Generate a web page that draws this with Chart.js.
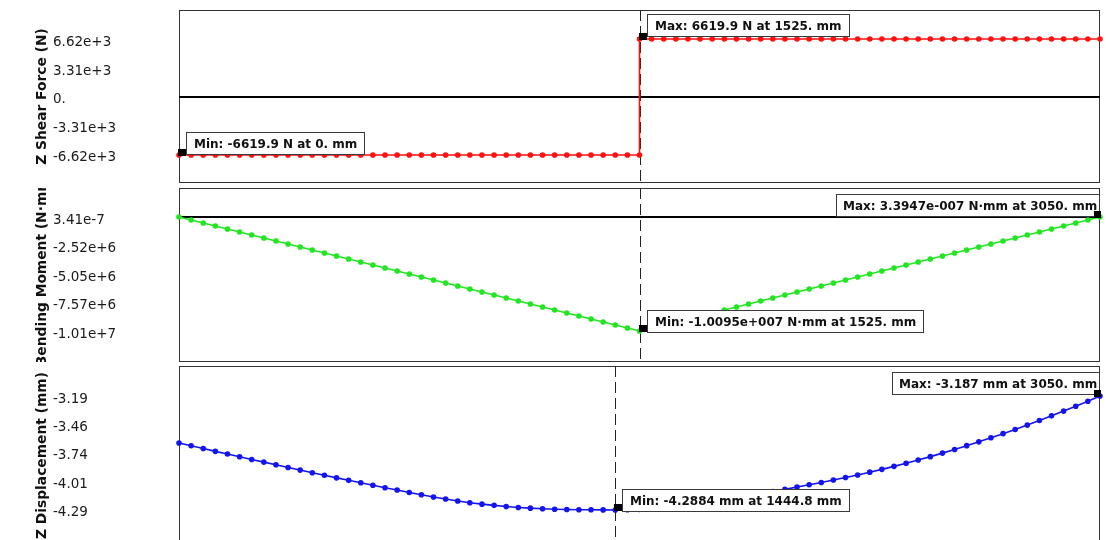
<!DOCTYPE html>
<html>
<head>
<meta charset="utf-8">
<script src="https://cdn.jsdelivr.net/npm/chart.js@4.4.1/dist/chart.umd.min.js"></script>
<style>
  html, body { margin: 0; padding: 0; background: #fff; width: 1106px; height: 540px; overflow: hidden; }
  canvas { position: absolute; left: 0; }
</style>
</head>
<body>
<canvas id="shear" width="1106" height="193" style="top:0px"></canvas>
<canvas id="moment" width="1106" height="194" style="top:178px"></canvas>
<canvas id="disp" width="1106" height="199" style="top:356px"></canvas>
<script>
// Node positions along the beam (mm), 76 elements over 3050 mm
const nodeX = [
  0, 40.13, 80.26, 120.39, 160.53, 200.66, 240.79, 280.92, 321.05, 361.18,
  401.32, 441.45, 481.58, 521.71, 561.84, 601.97, 642.11, 682.24, 722.37, 762.5,
  802.63, 842.76, 882.89, 923.03, 963.16, 1003.29, 1043.42, 1083.55, 1123.68, 1163.82,
  1203.95, 1244.08, 1284.21, 1324.34, 1364.47, 1404.61, 1444.8, 1484.87, 1525,
  1565.13, 1605.26, 1645.39, 1685.53, 1725.66, 1765.79, 1805.92, 1846.05, 1886.18, 1926.32,
  1966.45, 2006.58, 2046.71, 2086.84, 2126.97, 2167.11, 2207.24, 2247.37, 2287.5, 2327.63,
  2367.76, 2407.89, 2448.03, 2488.16, 2528.29, 2568.42, 2608.55, 2648.68, 2688.82, 2728.95,
  2769.08, 2809.21, 2849.34, 2889.47, 2929.61, 2969.74, 3009.87, 3050
];

// Z shear force (N): left span nodes 0..38, right span nodes 38..76
const shearLeftN = [
  -6619.9, -6619.9, -6619.9, -6619.9, -6619.9, -6619.9, -6619.9, -6619.9, -6619.9, -6619.9,
  -6619.9, -6619.9, -6619.9, -6619.9, -6619.9, -6619.9, -6619.9, -6619.9, -6619.9, -6619.9,
  -6619.9, -6619.9, -6619.9, -6619.9, -6619.9, -6619.9, -6619.9, -6619.9, -6619.9, -6619.9,
  -6619.9, -6619.9, -6619.9, -6619.9, -6619.9, -6619.9, -6619.9, -6619.9, -6619.9
];
const shearRightN = [
  6619.9, 6619.9, 6619.9, 6619.9, 6619.9, 6619.9, 6619.9, 6619.9, 6619.9, 6619.9,
  6619.9, 6619.9, 6619.9, 6619.9, 6619.9, 6619.9, 6619.9, 6619.9, 6619.9, 6619.9,
  6619.9, 6619.9, 6619.9, 6619.9, 6619.9, 6619.9, 6619.9, 6619.9, 6619.9, 6619.9,
  6619.9, 6619.9, 6619.9, 6619.9, 6619.9, 6619.9, 6619.9, 6619.9, 6619.9
];

// Z bending moment (N·mm) at each node
const momentNmm = [
  0, -0.2657e6, -0.5313e6, -0.7970e6, -1.0627e6, -1.3283e6, -1.5940e6, -1.8597e6, -2.1253e6, -2.3910e6,
  -2.6567e6, -2.9223e6, -3.1880e6, -3.4537e6, -3.7193e6, -3.9850e6, -4.2507e6, -4.5163e6, -4.7820e6, -5.0477e6,
  -5.3133e6, -5.5790e6, -5.8447e6, -6.1103e6, -6.3760e6, -6.6417e6, -6.9073e6, -7.1730e6, -7.4387e6, -7.7043e6,
  -7.9700e6, -8.2357e6, -8.5013e6, -8.7670e6, -9.0327e6, -9.2983e6, -9.5640e6, -9.8297e6, -10.095e6,
  -9.8297e6, -9.5640e6, -9.2983e6, -9.0327e6, -8.7670e6, -8.5013e6, -8.2357e6, -7.9700e6, -7.7043e6, -7.4387e6,
  -7.1730e6, -6.9073e6, -6.6417e6, -6.3760e6, -6.1103e6, -5.8447e6, -5.5790e6, -5.3133e6, -5.0477e6, -4.7820e6,
  -4.5163e6, -4.2507e6, -3.9850e6, -3.7193e6, -3.4537e6, -3.1880e6, -2.9223e6, -2.6567e6, -2.3910e6, -2.1253e6,
  -1.8597e6, -1.5940e6, -1.3283e6, -1.0627e6, -0.7970e6, -0.5313e6, -0.2657e6, 3.3947e-7
];

// Z displacement (mm) at each node
const dispMm = [
  -3.641, -3.668, -3.695, -3.722, -3.748, -3.774, -3.800, -3.826, -3.852, -3.878,
  -3.903, -3.928, -3.953, -3.978, -4.002, -4.026, -4.050, -4.073, -4.096, -4.119,
  -4.141, -4.163, -4.183, -4.202, -4.218, -4.232, -4.244, -4.255, -4.264, -4.271,
  -4.277, -4.281, -4.284, -4.286, -4.2868, -4.2880, -4.2884, -4.2864, -4.2824, -4.2754,
  -4.2664, -4.2554, -4.2424, -4.2274, -4.2104, -4.1924, -4.1734, -4.1534, -4.1324, -4.1114,
  -4.0894, -4.0664, -4.0444, -4.0224, -3.9994, -3.975, -3.950, -3.923, -3.896, -3.867,
  -3.837, -3.805, -3.773, -3.739, -3.704, -3.667, -3.630, -3.591, -3.551, -3.510,
  -3.468, -3.424, -3.379, -3.333, -3.286, -3.237, -3.187
];

// Axis ticks and their printed labels
const shearTicks = [6619.9, 3309.95, 0, -3309.95, -6619.9];
const shearTickLabels = ['6.62e+3', '3.31e+3', '0.', '-3.31e+3', '-6.62e+3'];
const momentTicks = [0, -2.5238e6, -5.0475e6, -7.5713e6, -10.095e6];
const momentTickLabels = ['3.41e-7', '-2.52e+6', '-5.05e+6', '-7.57e+6', '-1.01e+7'];
const dispTicks = [-3.187, -3.4623, -3.7377, -4.013, -4.2884];
const dispTickLabels = ['-3.19', '-3.46', '-3.74', '-4.01', '-4.29'];

// Axis titles and extreme-value callouts
const titles = ['Z Shear Force (N)', 'Z Bending Moment (N·mm)', 'Z Displacement (mm)'];
const shearNotes = [
  { x: 1525, y: 6619.9, text: 'Max: 6619.9 N at 1525. mm', side: 'right', dy: -2 },
  { x: 0, y: -6619.9, text: 'Min: -6619.9 N at 0. mm', side: 'right', dy: 0 }
];
const momentNotes = [
  { x: 1525, y: -10.095e6, text: 'Min: -1.0095e+007 N·mm at 1525. mm', side: 'right', dy: 2 },
  { x: 3050, y: 3.3947e-7, text: 'Max: 3.3947e-007 N·mm at 3050. mm', side: 'left', dy: 0 }
];
const dispNotes = [
  { x: 3050, y: -3.187, text: 'Max: -3.187 mm at 3050. mm', side: 'left', dy: -1 },
  { x: 1444.8, y: -4.2884, text: 'Min: -4.2884 mm at 1444.8 mm', side: 'right', dy: 2 }
];

const FONT = '"DejaVu Sans", Verdana, sans-serif';

const panelDecor = {
  id: 'panelDecor',
  beforeDatasetsDraw(chart, args, o) {
    const { ctx, chartArea: a, scales: { x, y } } = chart;
    ctx.save();
    // frame
    ctx.strokeStyle = '#333';
    ctx.lineWidth = 1;
    ctx.setLineDash([]);
    ctx.strokeRect(a.left + 0.5, a.top + 0.5, a.right - a.left - 1, a.bottom - a.top - 1);
    // zero line
    if (o.zeroLine) {
      const py = Math.round(y.getPixelForValue(0));
      ctx.strokeStyle = '#000';
      ctx.lineWidth = 2;
      ctx.beginPath();
      ctx.moveTo(a.left, py);
      ctx.lineTo(a.right, py);
      ctx.stroke();
    }
    // dashed cursor at the extreme location
    if (o.cursorX != null) {
      const px = Math.round(x.getPixelForValue(o.cursorX)) + 0.5;
      ctx.strokeStyle = '#222';
      ctx.lineWidth = 1;
      ctx.setLineDash([11, 5]);
      ctx.beginPath();
      ctx.moveTo(px, a.top);
      ctx.lineTo(px, a.bottom);
      ctx.stroke();
      ctx.setLineDash([]);
    }
    // rotated axis title, clipped to the panel height
    ctx.beginPath();
    ctx.rect(0, a.top, a.left, a.bottom - a.top);
    ctx.clip();
    ctx.translate(42, (a.top + a.bottom) / 2 + (o.titleShift || 0));
    ctx.rotate(-Math.PI / 2);
    ctx.font = 'bold 13.8px ' + FONT;
    ctx.fillStyle = '#111';
    ctx.textAlign = 'center';
    ctx.textBaseline = 'middle';
    ctx.fillText(o.title, 0, 0);
    ctx.restore();
  },
  afterDatasetsDraw(chart, args, o) {
    const { ctx, scales: { x, y } } = chart;
    ctx.save();
    ctx.font = 'bold 12px ' + FONT;
    for (const n of o.notes) {
      const px = x.getPixelForValue(n.x);
      const py = y.getPixelForValue(n.y);
      const tw = ctx.measureText(n.text).width;
      const w = Math.round(n.side === 'left' ? tw + 10 : tw + 16);
      const h = 23;
      const left = Math.round(n.side === 'left' ? px - w : px + 7);
      const top = Math.round(py + n.dy - h);
      ctx.fillStyle = '#fff';
      ctx.fillRect(left, top, w, h);
      ctx.strokeStyle = '#3a3a3a';
      ctx.lineWidth = 1;
      ctx.strokeRect(left + 0.5, top + 0.5, w - 1, h - 1);
      ctx.fillStyle = '#111';
      ctx.textAlign = 'left';
      ctx.textBaseline = 'middle';
      ctx.fillText(n.text, left + (n.side === 'left' ? 7 : 8), top + h / 2 + 1);
      ctx.fillStyle = '#000';
      if (n.side === 'left') ctx.fillRect(px - 6, py - 6, 7, 7);
      else ctx.fillRect(Math.round(px) - 1, Math.round(py) - 6, 8, 7);
    }
    ctx.restore();
  }
};

function yAxis(min, max, tickValues, tickLabels) {
  return {
    type: 'linear',
    min, max,
    afterFit(scale) { scale.width = 126; },
    afterBuildTicks(scale) { scale.ticks = tickValues.map(v => ({ value: v })); },
    grid: { display: false, drawTicks: false },
    border: { display: false },
    ticks: {
      autoSkip: false,
      crossAlign: 'far',
      padding: 0,
      labelOffset: 3,
      color: '#1a1a1a',
      font: { family: FONT, size: 13.5 },
      callback: (v, i) => tickLabels[i]
    }
  };
}

function lineSet(points, color) {
  return {
    data: points,
    borderColor: color,
    backgroundColor: color,
    borderWidth: 1.6,
    pointRadius: 2,
    pointHoverRadius: 2,
    pointStyle: 'circle',
    tension: 0,
    clip: false
  };
}

function makePanel(id, datasets, yOpts, decor) {
  return new Chart(document.getElementById(id), {
    type: 'line',
    data: { datasets },
    options: {
      responsive: false,
      animation: false,
      events: [],
      layout: { padding: { left: 53, right: 6, top: 10, bottom: 10 } },
      scales: {
        x: { type: 'linear', min: 0, max: 3050, display: false },
        y: yOpts
      },
      plugins: { legend: { display: false }, tooltip: { enabled: false }, panelDecor: decor }
    },
    plugins: [panelDecor]
  });
}

const shearPts = [
  ...shearLeftN.map((v, i) => ({ x: nodeX[i], y: v })),
  ...shearRightN.map((v, i) => ({ x: nodeX[i + 38], y: v }))
];
makePanel('shear', [lineSet(shearPts, '#ff1010')],
  yAxis(-9816, 9930, shearTicks, shearTickLabels),
  { title: titles[0], zeroLine: true, cursorX: 1525, notes: shearNotes });

makePanel('moment', [lineSet(momentNmm.map((v, i) => ({ x: nodeX[i], y: v })), '#22e622')],
  yAxis(-12.84e6, 2.568e6, momentTicks, momentTickLabels),
  { title: titles[1], zeroLine: true, cursorX: 1525, notes: momentNotes, titleShift: 1 });

makePanel('disp', [lineSet(dispMm.map((v, i) => ({ x: nodeX[i], y: v })), '#1414f0')],
  yAxis(-4.627, -2.897, dispTicks, dispTickLabels),
  { title: titles[2], zeroLine: false, cursorX: 1444.8, notes: dispNotes });
</script>
</body>
</html>
